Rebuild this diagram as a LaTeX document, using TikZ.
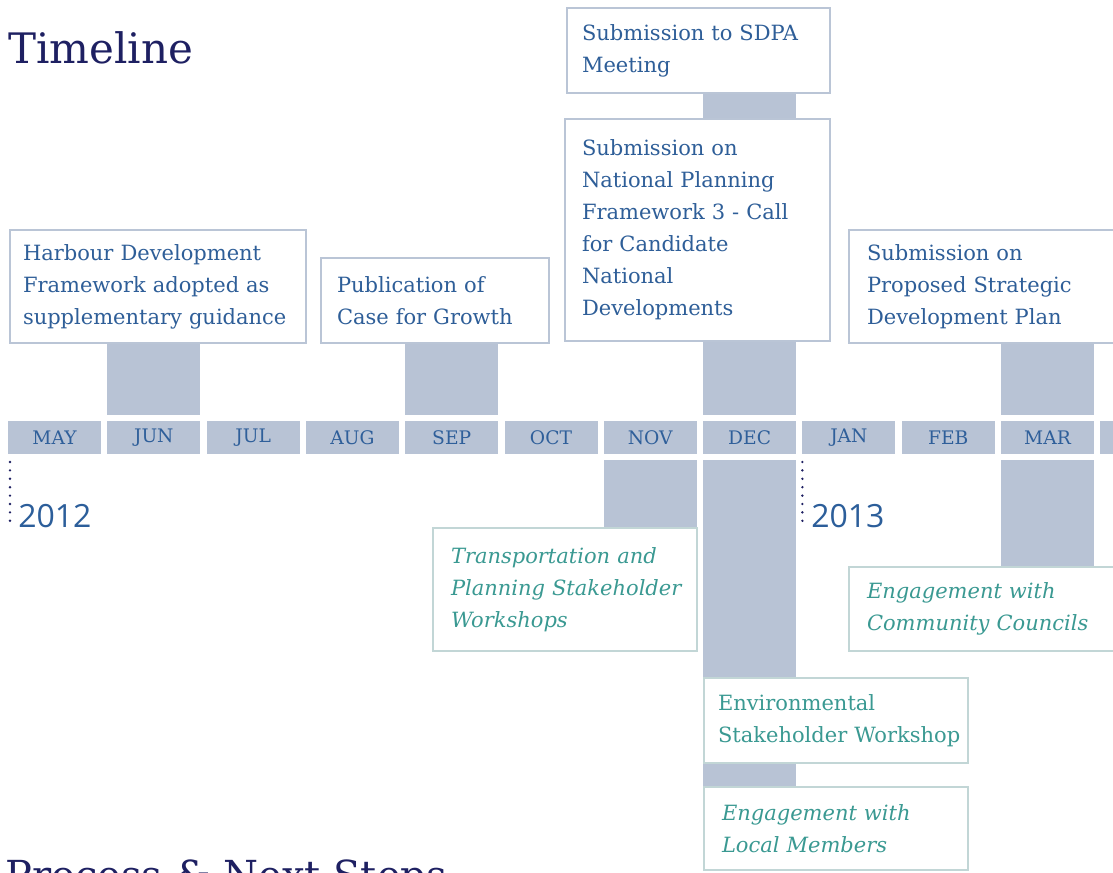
\documentclass[tikz,border=0pt]{standalone}
\usepackage{fontspec}
\setmainfont{DejaVu Serif}
\newfontfamily\yearfont{Open Sans}
\usetikzlibrary{calc}
\definecolor{navy}{HTML}{1E2062}
\definecolor{boxtext}{HTML}{2E5E98}
\definecolor{monthc}{HTML}{2F5F9A}
\definecolor{barc}{HTML}{B8C3D5}
\definecolor{upborder}{HTML}{BAC5D6}
\definecolor{lowborder}{HTML}{C2D6D6}
\definecolor{tealtext}{HTML}{3A9992}
\definecolor{yearc}{HTML}{2C5E9A}
\newcommand{\oneline}[1]{\mbox{#1}}
\begin{document}
\begin{tikzpicture}[x=0.75pt,y=-0.75pt,
  cell/.style={fill=barc, minimum width=69.75pt, minimum height=24.75pt, inner sep=0pt, outer sep=0pt, text=monthc, font=\fontsize{14}{16}\selectfont},
  upbox/.style={draw=upborder, line width=2.1pt, fill=white, inner sep=0pt, align=left, text=boxtext, font=\fontsize{15.75}{24}\selectfont},
  lowbox/.style={upbox, draw=lowborder, text=tealtext},
  bar/.style={fill=barc},
  titletxt/.style={text=navy, inner sep=0pt, font=\fontsize{31.5}{36}\selectfont},
  yeartxt/.style={text=yearc, inner sep=0pt, font=\yearfont\fontsize{24}{28}\selectfont},
  yeardots/.style={draw=navy, line width=2pt, line cap=round, dash pattern=on 0pt off 6.3pt}
]
\useasboundingbox (0,0) rectangle (1113,873);
\clip (0,0) rectangle (1113,873);

% title
\node[titletxt, anchor=base west] (title) at (8,64) {Timeline};
\node[titletxt, anchor=base west, font=\fontsize{30}{36}\selectfont] (next) at (5,889) {Process \& Next Steps};

% month cells
\foreach \i/\nm/\tx in {0/may/MAY,1/jun/JUN,2/jul/JUL,3/aug/AUG,4/sep/SEP,5/oct/OCT,6/nov/NOV,7/dec/DEC,8/jan/JAN,9/feb/FEB,10/mar/MAR,11/apr/{}}
  \node[cell] (\nm) at ({54.5+99.3*\i},437.5) {\tx};

% upper boxes
\node[upbox, minimum width=197.25pt, minimum height=63.75pt, text width=174.75pt] (sdpa) at (698.5,50.5)
  {\oneline{Submission to SDPA}\\\oneline{Meeting}};
\node[upbox, minimum width=198.75pt, minimum height=166.5pt, text width=173.25pt] (npf) at (697.5,230)
  {\oneline{Submission on}\\\oneline{National Planning}\\\oneline{Framework 3 - Call}\\\oneline{for Candidate}\\\oneline{National}\\\oneline{Developments}};
\node[upbox, minimum width=222pt, minimum height=84.75pt, text width=202.5pt] (harbour) at (158,286.5)
  {\oneline{Harbour Development}\\\oneline{Framework adopted as}\\\oneline{supplementary guidance}};
\node[upbox, minimum width=171pt, minimum height=63.75pt, text width=147pt] (pub) at (435,300.5)
  {\oneline{Publication of}\\\oneline{Case for Growth}};
\node[upbox, minimum width=210.75pt, minimum height=84.75pt, text width=183.75pt] (psdp) at (989.5,286.5)
  {\oneline{Submission on}\\\oneline{Proposed Strategic}\\\oneline{Development Plan}};

% lower boxes
\node[lowbox, minimum width=198pt, minimum height=92.25pt, text width=171pt, font=\fontsize{15.75}{24}\selectfont\itshape] (trans) at (565,589.5)
  {\oneline{Transportation and}\\\oneline{Planning Stakeholder}\\\oneline{Workshops}};
\node[lowbox, minimum width=210.75pt, minimum height=63pt, text width=183.75pt, font=\fontsize{15.75}{24}\selectfont\itshape] (comm) at (989.5,609)
  {\oneline{Engagement with}\\\oneline{Community Councils}};
\node[lowbox, minimum width=198pt, minimum height=63.75pt, text width=177pt] (env) at (836,720.5)
  {\oneline{Environmental}\\\oneline{Stakeholder Workshop}};
\node[lowbox, minimum width=198pt, minimum height=62.25pt, text width=171pt, font=\fontsize{15.75}{24}\selectfont\itshape] (local) at (836,828.5)
  {\oneline{Engagement with}\\\oneline{Local Members}};

% upper bars
\fill[bar] (harbour.south -| jun.west) rectangle ([yshift=4.5pt]jun.north east);
\fill[bar] (pub.south -| sep.west) rectangle ([yshift=4.5pt]sep.north east);
\fill[bar] (npf.south -| dec.west) rectangle ([yshift=4.5pt]dec.north east);
\fill[bar] (sdpa.south -| dec.west) rectangle (npf.north -| dec.east);
\fill[bar] (psdp.south -| mar.west) rectangle ([yshift=4.5pt]mar.north east);

% lower bars
\fill[bar] ([yshift=-4.5pt]nov.south west) rectangle (trans.north -| nov.east);
\fill[bar] ([yshift=-4.5pt]dec.south west) rectangle (env.north -| dec.east);
\fill[bar] (env.south -| dec.west) rectangle (local.north -| dec.east);
\fill[bar] ([yshift=-4.5pt]mar.south west) rectangle (comm.north -| mar.east);

% years
\node[yeartxt, anchor=base west] (y12) at (18,527) {2012};
\node[yeartxt, anchor=base west] (y13) at (811,527) {2013};
\coordinate (d12) at ([xshift=1.5pt,yshift=-6pt]may.south west);
\coordinate (d13) at ([xshift=0pt,yshift=-6pt]jan.south west);
\draw[yeardots] (d12) -- (d12 |- y12.base);
\draw[yeardots] (d13) -- (d13 |- y13.base);
\end{tikzpicture}
\end{document}
